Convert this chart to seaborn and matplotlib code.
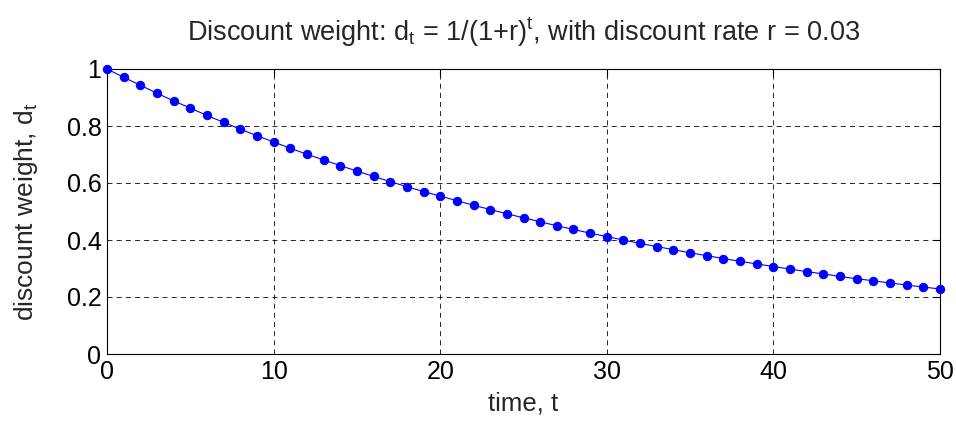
import numpy as np
import pandas as pd
import seaborn as sns
import matplotlib
matplotlib.use("Agg")
import matplotlib.pyplot as plt

sns.set_theme(style="white")
plt.rcParams['font.family'] = ['Liberation Sans', 'DejaVu Sans']
plt.rcParams['mathtext.default'] = 'regular'

# time steps and discount weights
t = list(range(0, 51))
d = [1.000, 0.971, 0.943, 0.915, 0.888, 0.863, 0.837, 0.813, 0.789, 0.766,
     0.744, 0.722, 0.701, 0.681, 0.661, 0.642, 0.623, 0.605, 0.587, 0.570,
     0.554, 0.538, 0.522, 0.507, 0.492, 0.478, 0.464, 0.450, 0.437, 0.424,
     0.412, 0.400, 0.388, 0.377, 0.366, 0.355, 0.345, 0.335, 0.325, 0.316,
     0.307, 0.298, 0.289, 0.281, 0.272, 0.264, 0.257, 0.249, 0.242, 0.235,
     0.228]
xticks = [0, 10, 20, 30, 40, 50]
yticks = [0, 0.2, 0.4, 0.6, 0.8, 1]
ytick_labels = ['0', '0.2', '0.4', '0.6', '0.8', '1']

df = pd.DataFrame({'t': t, 'd': d})

fig = plt.figure(figsize=(9.56, 4.23), dpi=100)
ax = fig.add_axes([107 / 956, 1 - 354 / 423, (940 - 107) / 956, (354 - 69) / 423])

sns.lineplot(data=df, x='t', y='d', ax=ax, color='blue', linewidth=0.8,
             marker='o', markersize=6, markeredgecolor='blue', zorder=3,
             clip_on=False)

ax.set_xlim(0, 50)
ax.set_ylim(0, 1)
ax.set_xticks(xticks)
ax.set_xticklabels([str(x) for x in xticks])
ax.set_yticks(yticks)
ax.set_yticklabels(ytick_labels)
ax.grid(True, color='black', linestyle=(0, (6, 5)), linewidth=0.6)
ax.tick_params(direction='in', length=5, width=0.8, top=True, right=True,
               labelsize=18, colors='black', pad=4)
for s in ax.spines.values():
    s.set_color('black')
    s.set_linewidth(0.8)

ax.set_xlabel('time, t', fontsize=18.5, labelpad=6)
ax.set_ylabel('discount weight, $d_t$', fontsize=19, labelpad=19)
ax.set_title('Discount weight: $d_t$ = 1/(1+r)$^t$, with discount rate r = 0.03',
             fontsize=19.5, pad=20)

fig.savefig('out.png', dpi=100)
